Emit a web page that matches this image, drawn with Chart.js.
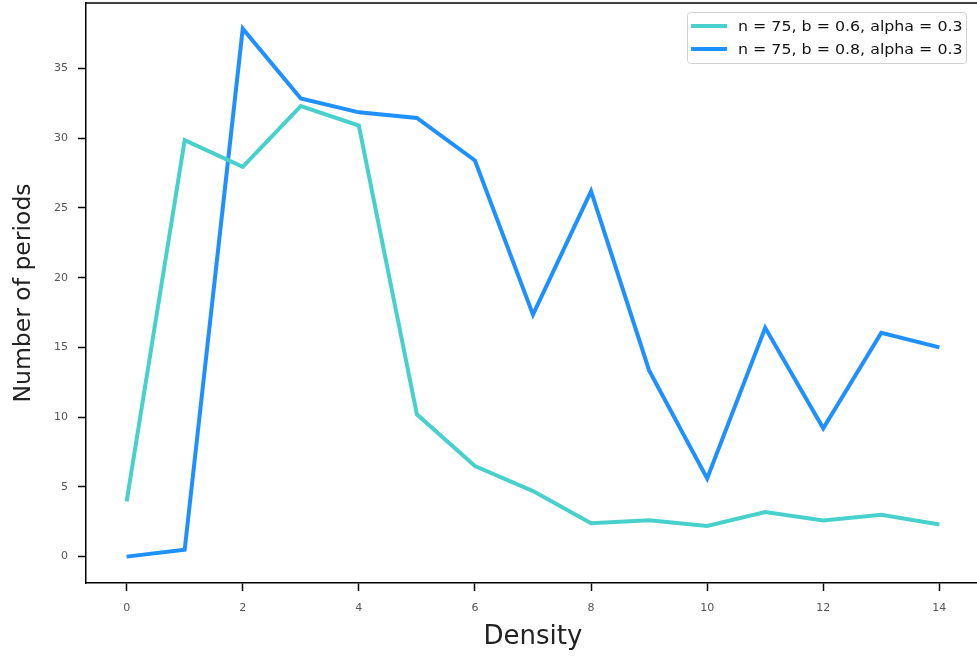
<!DOCTYPE html>
<html lang="en">
<head>
    <meta charset="UTF-8" />
    <title>Number of periods vs Density</title>
    <script src="https://cdn.jsdelivr.net/npm/chart.js"></script>
    <style>
        html, body { margin: 0; padding: 0; background: #fff; overflow: hidden; }
        #wrap { width: 990px; height: 656px; position: relative; }
    </style>
</head>
<body>
    <div id="wrap"><canvas id="chart"></canvas></div>

    <script>
        const density = [0, 1, 2, 3, 4, 5, 6, 7, 8, 9, 10, 11, 12, 13, 14];
        const seriesB06 = [3.95, 29.85, 27.95, 32.3, 30.9, 10.2, 6.5, 4.7, 2.4, 2.6, 2.2, 3.2, 2.6, 3.0, 2.3];
        const seriesB08 = [0, 0.5, 37.85, 32.85, 31.85, 31.45, 28.4, 17.35, 26.2, 13.35, 5.6, 16.4, 9.2, 16.05, 15.0];
        const labels = ["n = 75, b = 0.6, alpha = 0.3", "n = 75, b = 0.8, alpha = 0.3"];
        const xTicks = [0, 2, 4, 6, 8, 10, 12, 14];
        const yTicks = [0, 5, 10, 15, 20, 25, 30, 35];

        const toPoints = ys => density.map((x, i) => ({ x: x, y: ys[i] }));

        // top spine (right one falls off the canvas, like the reference)
        const frame = {
            id: "frame",
            afterDraw(chart) {
                const { ctx, chartArea: a } = chart;
                ctx.save();
                ctx.strokeStyle = "#000";
                ctx.lineWidth = 1.5;
                ctx.beginPath();
                ctx.moveTo(a.left, a.top);
                ctx.lineTo(a.right, a.top);
                ctx.lineTo(a.right, a.bottom);
                ctx.stroke();
                ctx.restore();
            }
        };

        // matplotlib-ish legend box in the upper right
        const boxLegend = {
            id: "boxLegend",
            afterDraw(chart) {
                const ctx = chart.ctx;
                const x0 = 687, y0 = 12, w = 279, h = 51;
                ctx.save();
                ctx.fillStyle = "rgba(255,255,255,0.9)";
                ctx.strokeStyle = "#d0d0d0";
                ctx.lineWidth = 1;
                ctx.beginPath();
                ctx.roundRect(x0 + 0.5, y0 + 0.5, w, h, 3);
                ctx.fill();
                ctx.stroke();
                chart.data.datasets.forEach((ds, i) => {
                    const yy = y0 + 14 + i * 23;
                    ctx.strokeStyle = ds.borderColor;
                    ctx.lineWidth = 4;
                    ctx.beginPath();
                    ctx.moveTo(691, yy);
                    ctx.lineTo(727, yy);
                    ctx.stroke();
                    // the reference is a bit stretched sideways
                    ctx.save();
                    ctx.translate(738, yy + 1);
                    ctx.scale(1.1, 1);
                    ctx.font = "14.4px 'DejaVu Sans'";
                    ctx.textBaseline = "middle";
                    ctx.fillStyle = "#111";
                    ctx.fillText(ds.label, 0, 0);
                    ctx.restore();
                });
                ctx.restore();
            }
        };

        new Chart(document.getElementById("chart"), {
            type: "line",
            data: {
                datasets: [
                    {
                        label: labels[0],
                        data: toPoints(seriesB06),
                        borderColor: "#48d1cc",
                        borderWidth: 4,
                        pointRadius: 0,
                        tension: 0
                    },
                    {
                        label: labels[1],
                        data: toPoints(seriesB08),
                        borderColor: "#1e90ff",
                        borderWidth: 4,
                        pointRadius: 0,
                        tension: 0
                    }
                ]
            },
            options: {
                responsive: true,
                maintainAspectRatio: false,
                animation: false,
                layout: { padding: { top: 3, right: 10, left: 0, bottom: 0 } },
                plugins: {
                    legend: { display: false },
                    tooltip: { enabled: false }
                },
                scales: {
                    x: {
                        type: "linear",
                        min: -0.7,
                        max: 14.7,
                        afterBuildTicks: axis => { axis.ticks = xTicks.map(v => ({ value: v })); },
                        afterFit: axis => { axis.height = 73; axis.paddingLeft = 0; axis.paddingRight = 0; },
                        grid: { drawOnChartArea: false, drawTicks: true, tickLength: 8, tickWidth: 1.5, tickColor: "#000" },
                        border: { display: true, color: "#000", width: 1.5 },
                        ticks: { color: "#555", font: { family: "DejaVu Sans", size: 11 }, padding: 11, maxRotation: 0 },
                        title: { display: true, text: "Density", color: "#222", font: { family: "DejaVu Sans", size: 26 }, padding: { top: 6, bottom: 3 } }
                    },
                    y: {
                        min: -1.89,
                        max: 39.69,
                        afterBuildTicks: axis => { axis.ticks = yTicks.map(v => ({ value: v })); },
                        afterFit: axis => { axis.width = 86; axis.paddingTop = 0; axis.paddingBottom = 0; },
                        grid: { drawOnChartArea: false, drawTicks: true, tickLength: 8, tickWidth: 1.5, tickColor: "#000" },
                        border: { display: true, color: "#000", width: 1.5 },
                        ticks: { color: "#555", font: { family: "DejaVu Sans", size: 11 }, padding: 10 },
                        title: { display: true, text: "Number of periods", color: "#222", font: { family: "DejaVu Sans", size: 23.5 }, padding: { top: 10, bottom: 8 } }
                    }
                }
            },
            plugins: [frame, boxLegend]
        });
    </script>
</body>
</html>
